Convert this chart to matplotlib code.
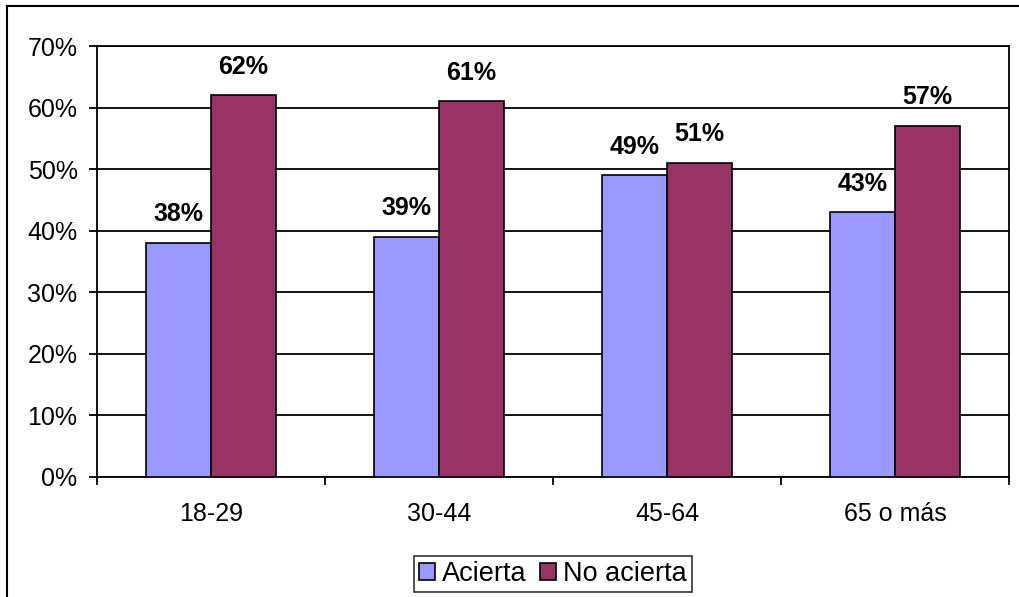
import matplotlib.pyplot as plt
import numpy as np
from matplotlib.lines import Line2D

plt.rcParams['font.family'] = ['Liberation Sans', 'DejaVu Sans']

# data
categories = ['18-29', '30-44', '45-64', '65 o más']
acierta = [38, 39, 49, 43]
no_acierta = [62, 61, 51, 57]
series_names = ['Acierta', 'No acierta']

fig = plt.figure(figsize=(10.19, 5.97), dpi=100)
ax = fig.add_axes([97 / 1019, 1 - 477 / 597, (1009 - 97) / 1019, (477 - 46) / 597])

# outer chart border (left and top visible only)
fig.add_artist(Line2D([7 / 1019, 7 / 1019], [0, 1 - 6 / 597], transform=fig.transFigure,
                      color='black', lw=1.5))
fig.add_artist(Line2D([7 / 1019, 1], [1 - 6 / 597, 1 - 6 / 597], transform=fig.transFigure,
                      color='black', lw=1.5))

x = np.arange(len(categories))
w = 0.285
b1 = ax.bar(x - w / 2, acierta, w, color='#9999FF', edgecolor='black', lw=1.2,
            label=series_names[0], zorder=3)
b2 = ax.bar(x + w / 2, no_acierta, w, color='#993366', edgecolor='black', lw=1.2,
            label=series_names[1], zorder=3)

for bars in (b1, b2):
    for r in bars:
        ax.annotate(f'{r.get_height():.0f}%', (r.get_x() + r.get_width() / 2, r.get_height()),
                    xytext=(0, 12), textcoords='offset points', ha='center', va='bottom',
                    fontsize=18, fontweight='bold', zorder=4)

ax.set_xlim(-0.5, len(categories) - 0.5)
ax.set_ylim(0, 70)
ax.set_yticks(range(0, 71, 10))
ax.set_yticklabels([f'{v}%' for v in range(0, 71, 10)])
ax.yaxis.grid(True, color='black', lw=1.3, zorder=0)
ax.set_axisbelow(True)

ax.set_xticks(x)
ax.set_xticklabels(categories)
ax.set_xticks(np.arange(-0.5, len(categories), 1), minor=True)
ax.tick_params(axis='x', which='major', length=0, pad=18, labelsize=18)
ax.tick_params(axis='x', which='minor', length=6, width=1.3, direction='out')
ax.tick_params(axis='y', length=6, width=1.3, direction='out', pad=8, labelsize=18)

for s in ax.spines.values():
    s.set_linewidth(1.3)
    s.set_color('black')

leg = ax.legend(loc='center', ncol=2, fontsize=19.5, frameon=True,
                fancybox=False, edgecolor='black', handlelength=0.6, handleheight=0.6,
                handletextpad=0.25, columnspacing=0.5, borderpad=0.2, borderaxespad=0)
leg.get_frame().set_linewidth(1.2)
leg.set_bbox_to_anchor((0.5, 1 - (574 - 46) / 431), transform=ax.transAxes)

fig.savefig('out.png', dpi=100, facecolor='white')
